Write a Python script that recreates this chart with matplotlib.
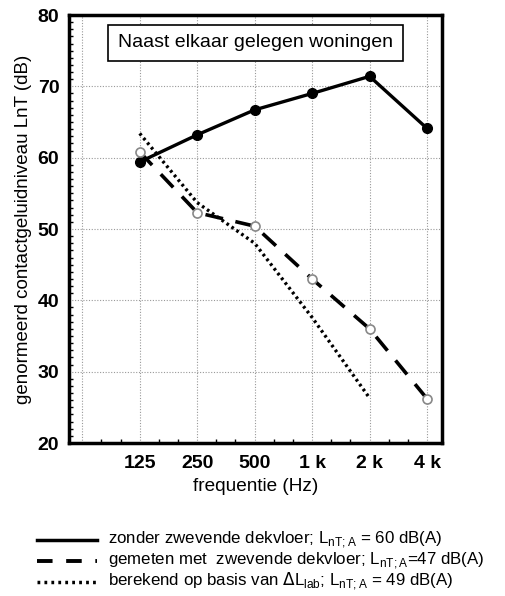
import numpy as np
import matplotlib.pyplot as plt
from matplotlib.ticker import MultipleLocator

plt.rcParams['font.family'] = ['Liberation Sans', 'DejaVu Sans']

# octave bands (63 Hz gets a grid line but no label)
freq_labels = ["", "125", "250", "500", "1 k", "2 k", "4 k"]

# L'nT per octave band, 125 Hz .. 4 kHz
zonder = [59.4, 63.2, 66.7, 69.0, 71.4, 64.1]
gemeten = [60.8, 52.3, 50.4, 43.0, 36.0, 26.2]
berekend = [63.4, 53.7, 48.0, 37.6, 26.3]

leg_texts = [
    r"zonder zwevende dekvloer; L$_{\mathregular{nT;A}}$ = 60 dB(A)",
    r"gemeten met  zwevende dekvloer; L$_{\mathregular{nT;A}}$=47 dB(A)",
    r"berekend op basis van $\Delta$L$_{\mathregular{lab}}$; L$_{\mathregular{nT;A}}$ = 49 dB(A)",
]

fig = plt.figure(figsize=(5.05, 5.96), dpi=100)
ax = fig.add_axes([69/505, 1 - 443/596, 373/505, 428/596])

x = np.arange(1, 7)
ax.plot(x, zonder, '-', color='black', lw=2.4, marker='o', ms=7, zorder=5)
ax.plot(x, gemeten, color='black', lw=2.6, ls=(0, (5, 3.5)), zorder=4)
ax.plot(x, gemeten, 'o', mfc='white', mec='#888888', mew=1.2, ms=6.5, ls='none', zorder=6)
ax.plot(x[:len(berekend)], berekend, color='black', lw=2.4, ls=(0, (0.8, 1.0)), zorder=4)

ax.set_xlim(-0.23, 6.26)
ax.set_ylim(20, 80)
ax.set_xticks(np.arange(0, 7))
ax.set_xticklabels(freq_labels)
ax.xaxis.set_minor_locator(MultipleLocator(1/3))
ax.set_yticks(np.arange(20, 81, 10))
ax.yaxis.set_minor_locator(MultipleLocator(1))
ax.tick_params(axis='both', which='both', direction='in', labelsize=14)
ax.tick_params(axis='x', which='major', length=0, pad=9)
ax.tick_params(axis='y', which='major', length=0, pad=7)
ax.tick_params(axis='both', which='minor', length=3, width=1)
for lab in ax.get_yticklabels() + ax.get_xticklabels():
    lab.set_fontweight('bold')
ax.grid(True, which='major', color='#999999', ls=(0, (1, 1.5)), lw=0.8)
for s in ax.spines.values():
    s.set_linewidth(2.5)

ax.set_xlabel("frequentie (Hz)", fontsize=13.7, labelpad=4)
ax.set_ylabel("genormeerd contactgeluidniveau LnT (dB)", fontsize=13.5, labelpad=4)

ax.text(0.5, 0.935, "Naast elkaar gelegen woningen", transform=ax.transAxes,
        ha='center', va='center', fontsize=14,
        bbox=dict(boxstyle='square,pad=0.5', fc='white', ec='black', lw=1.2))

# legend drawn by hand below the axes
styles = [dict(ls='-', lw=2.5), dict(ls=(0, (4, 3.5)), lw=2.8), dict(ls=(0, (0.8, 1.2)), lw=2.5)]
rows = [539.5, 560.5, 581.5]
for st, yy, txt in zip(styles, rows, leg_texts):
    yf = 1 - yy / 596
    fig.add_artist(plt.Line2D([37/505, 97/505], [yf, yf], color='black', **st))
    fig.text(108/505, yf, txt, ha='left', va='center', fontsize=12.2)

fig.savefig("out.png", dpi=100)
